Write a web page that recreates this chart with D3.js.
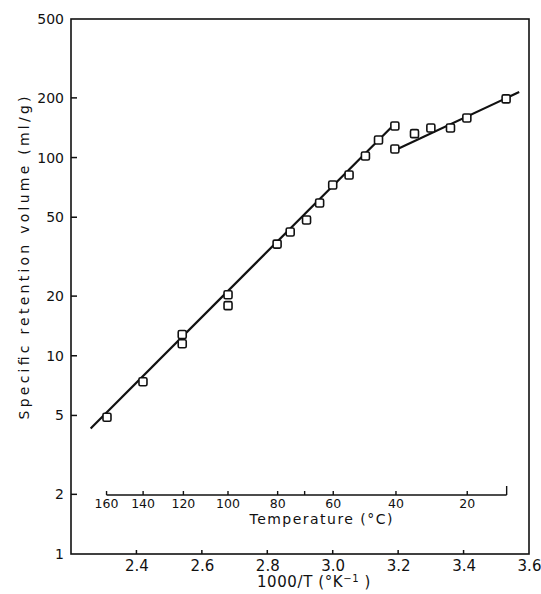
<!DOCTYPE html>
<html>
<head>
<meta charset="utf-8">
<script src="https://cdn.jsdelivr.net/npm/d3@7/dist/d3.min.js"></script>
<style>
  html, body { margin: 0; padding: 0; background: #fff; }
  svg text { font-family: "DejaVu Sans", sans-serif; fill: #111; }
</style>
</head>
<body>
<svg id="chart" width="541" height="594"></svg>
<script>
// Specific retention volume against reciprocal temperature.
// Steep branch (high temperatures), 1000/T in K^-1 and Vg in ml/g
const invTempHigh = [2.31, 2.42, 2.54, 2.54, 2.68, 2.68, 2.83, 2.87, 2.92, 2.96, 3.00, 3.05, 3.10, 3.14, 3.19];
const vgHigh      = [4.9, 7.4, 12.8, 11.5, 20.3, 17.9, 36.6, 42.1, 48.4, 59.0, 72.7, 81.7, 101.9, 122.7, 144.3];
// Shallow branch (low temperatures)
const invTempLow  = [3.19, 3.25, 3.30, 3.36, 3.41, 3.53];
const vgLow       = [110.5, 132, 141, 141, 158.4, 197.6];
// Fitted straight lines (end points) through each branch
const fitHighX = [2.26, 3.19], fitHighY = [4.3, 148];
const fitLowX  = [3.19, 3.57], fitLowY  = [109, 214];

// Axes
const xDomain = [2.2, 3.6];
const xTicks = [2.4, 2.6, 2.8, 3.0, 3.2, 3.4, 3.6];
const yDomain = [1, 500];
const yTicks = [1, 2, 5, 10, 20, 50, 100, 200, 500];
// Secondary temperature scale (°C) drawn inside the plot
const tempTicks  = [160, 140, 120, 100, 80, 70, 60, 40, 20, 10];
const tempLabels = [160, 140, 120, 100, 80, 60, 40, 20];

const svg = d3.select("#chart");
const mLeft = 71, mRight = 529, mTop = 19, mBottom = 554;

const x = d3.scaleLinear().domain(xDomain).range([mLeft, mRight]);
const y = d3.scaleLog().domain(yDomain).range([mBottom, mTop]);
const tX = c => x(1000 / (c + 273.15));

// Frame
svg.append("rect")
  .attr("x", mLeft).attr("y", mTop)
  .attr("width", mRight - mLeft).attr("height", mBottom - mTop)
  .attr("fill", "none").attr("stroke", "#111").attr("stroke-width", 1.6);

// Left axis: labels from the axis generator, ticks pointing inward
const gy = svg.append("g").attr("transform", `translate(${mLeft},0)`)
  .call(d3.axisLeft(y).tickValues(yTicks).tickSize(0).tickPadding(7).tickFormat(d3.format("d")));
gy.select(".domain").remove();
gy.selectAll(".tick text").style("font-size", "14px").attr("fill", "#111");
svg.append("g").selectAll("line").data(yTicks.slice(1, -1)).join("line")
  .attr("x1", mLeft).attr("x2", mLeft + 6)
  .attr("y1", d => y(d)).attr("y2", d => y(d))
  .attr("stroke", "#111").attr("stroke-width", 1.5);

// Bottom axis
const gx = svg.append("g").attr("transform", `translate(0,${mBottom})`)
  .call(d3.axisBottom(x).tickValues(xTicks).tickSize(0).tickPadding(6).tickFormat(d3.format(".1f")));
gx.select(".domain").remove();
gx.selectAll(".tick text").style("font-size", "15px").attr("fill", "#111");
svg.append("g").selectAll("line").data(xTicks.slice(0, -1)).join("line")
  .attr("x1", d => x(d)).attr("x2", d => x(d))
  .attr("y1", mBottom).attr("y2", mBottom - 4)
  .attr("stroke", "#111").attr("stroke-width", 1.5);

// Temperature scale line
const tempY = 495;
svg.append("line")
  .attr("x1", tX(d3.max(tempTicks))).attr("x2", tX(d3.min(tempTicks)))
  .attr("y1", tempY).attr("y2", tempY)
  .attr("stroke", "#111").attr("stroke-width", 1.4);
svg.append("g").selectAll("line").data(tempTicks).join("line")
  .attr("x1", d => tX(d)).attr("x2", d => tX(d))
  .attr("y1", tempY).attr("y2", d => d === 10 ? tempY - 9 : tempY - 4)
  .attr("stroke", "#111").attr("stroke-width", 1.4);
svg.append("g").selectAll("text").data(tempLabels).join("text")
  .attr("x", d => tX(d)).attr("y", 508)
  .attr("text-anchor", "middle")
  .style("font-size", "12.5px")
  .text(d => d);
svg.append("text")
  .attr("x", 321).attr("y", 524)
  .attr("text-anchor", "middle")
  .attr("textLength", 143).attr("lengthAdjust", "spacing")
  .style("font-size", "14px")
  .text("Temperature (°C)");

// Axis titles
const xt = svg.append("text")
  .attr("x", 314).attr("y", 587)
  .attr("text-anchor", "middle")
  .style("font-size", "15px").style("letter-spacing", "0.6px");
xt.append("tspan").text("1000/T (°K");
xt.append("tspan").attr("dy", -5).style("font-size", "10px").text("−1");
xt.append("tspan").attr("dy", 5).text(" )");

svg.append("text")
  .attr("transform", "translate(29,258) rotate(-90)")
  .attr("text-anchor", "middle")
  .attr("textLength", 323).attr("lengthAdjust", "spacing")
  .style("font-size", "14px")
  .text("Specific retention volume (ml/g)");

// Fitted lines
const line = d3.line().x(d => x(d[0])).y(d => y(d[1]));
[[fitHighX, fitHighY], [fitLowX, fitLowY]].forEach(([xs, ys]) => {
  svg.append("path")
    .datum(xs.map((v, i) => [v, ys[i]]))
    .attr("d", line)
    .attr("fill", "none").attr("stroke", "#111").attr("stroke-width", 2.2);
});

// Data points: open squares
const pts = invTempHigh.map((v, i) => [v, vgHigh[i]])
  .concat(invTempLow.map((v, i) => [v, vgLow[i]]));
const s = 8;
svg.append("g").selectAll("rect").data(pts).join("rect")
  .attr("x", d => x(d[0]) - s / 2).attr("y", d => y(d[1]) - s / 2)
  .attr("width", s).attr("height", s)
  .attr("rx", 1.5)
  .attr("fill", "#fff").attr("stroke", "#111").attr("stroke-width", 1.6);
</script>
</body>
</html>
